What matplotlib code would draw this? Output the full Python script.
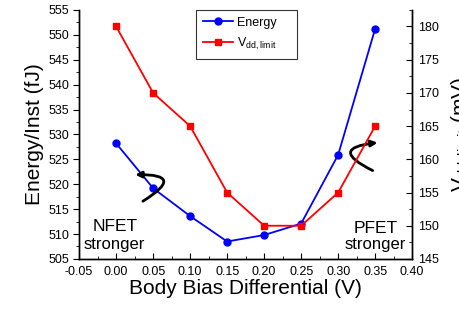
import matplotlib
matplotlib.use("Agg")
import matplotlib.pyplot as plt
from matplotlib.ticker import MultipleLocator

plt.rcParams['font.family'] = ['Liberation Sans', 'DejaVu Sans']
plt.rcParams['mathtext.fontset'] = 'custom'
plt.rcParams['mathtext.rm'] = 'Liberation Sans'
plt.rcParams['mathtext.it'] = 'Liberation Sans'

bias = [0.00, 0.05, 0.10, 0.15, 0.20, 0.25, 0.30, 0.35]
energy = [528.2, 519.2, 513.6, 508.5, 509.8, 512.1, 525.9, 551.2]
vdd_limit = [180, 170, 165, 155, 150, 150, 155, 165]

fig = plt.figure(figsize=(4.6, 3.09), dpi=100)
ax = fig.add_axes([0.172, 0.162, 0.724, 0.806])
ax2 = ax.twinx()

l1, = ax.plot(bias, energy, color='#0000ff', marker='o', markersize=5, lw=1.3, label='Energy', zorder=3)
l2, = ax2.plot(bias, vdd_limit, color='#ff0000', marker='s', markersize=4.5, lw=1.3,
               label='V$_{\\mathregular{dd,limit}}$', zorder=3)

ax.set_xlim(-0.05, 0.40)
ax.set_ylim(505, 555)
ax2.set_ylim(145, 182.5)

ax.xaxis.set_minor_locator(MultipleLocator(0.025))
ax.yaxis.set_major_locator(MultipleLocator(5))
ax.yaxis.set_minor_locator(MultipleLocator(2.5))
ax2.yaxis.set_major_locator(MultipleLocator(5))
ax2.yaxis.set_minor_locator(MultipleLocator(2.5))

ax.set_xticks([-0.05, 0.0, 0.05, 0.10, 0.15, 0.20, 0.25, 0.30, 0.35, 0.40])
ax.set_xticklabels(['-0.05', '0.00', '0.05', '0.10', '0.15', '0.20', '0.25', '0.30', '0.35', '0.40'])

for a in (ax, ax2):
    a.spines['top'].set_visible(False)
    for s in a.spines.values():
        s.set_linewidth(1.0)

ax.tick_params(axis='x', which='both', direction='in', labelsize=9, pad=5)
ax.tick_params(axis='x', which='major', length=4)
ax.tick_params(axis='x', which='minor', length=2)
ax.tick_params(axis='y', which='both', direction='out', labelsize=9, pad=3)
ax.tick_params(axis='y', which='major', length=4)
ax.tick_params(axis='y', which='minor', length=2)
ax2.tick_params(axis='y', which='both', direction='in', labelsize=9, pad=4)
ax2.tick_params(axis='y', which='major', length=4)
ax2.tick_params(axis='y', which='minor', length=2)

ax.set_xlabel('Body Bias Differential (V)', fontsize=15, labelpad=1)
ax.set_ylabel('Energy/Inst (fJ)', fontsize=15, labelpad=3)
ax2.set_ylabel('V$_{\\mathregular{dd,limit}}$ (mV)', fontsize=15, labelpad=8)

leg = ax.legend(handles=[l1, l2], loc='upper left', bbox_to_anchor=(0.351, 0.0, 0.303, 1.0),
                mode='expand', borderaxespad=0,
                fontsize=9, frameon=True, fancybox=False, edgecolor='black',
                handlelength=2.4, handletextpad=0.3, borderpad=0.55, labelspacing=0.55)
leg.get_frame().set_linewidth(0.8)

ax.text(-0.0014, 510.6, 'NFET', fontsize=12.5, ha='center', va='baseline')
ax.text(-0.002, 507.0, 'stronger', fontsize=12, ha='center', va='baseline')
ax.text(0.351, 510.3, 'PFET', fontsize=12.5, ha='center', va='baseline')
ax.text(0.350, 506.9, 'stronger', fontsize=12, ha='center', va='baseline')

ax.annotate('', xy=(0.022, 521.9), xytext=(0.033, 516.3),
            arrowprops=dict(arrowstyle='-|>', color='black', lw=2.0,
                            connectionstyle='arc3,rad=1.9', mutation_scale=9))
ax.annotate('', xy=(0.357, 528.4), xytext=(0.350, 522.5),
            arrowprops=dict(arrowstyle='-|>', color='black', lw=2.0,
                            connectionstyle='arc3,rad=-1.8', mutation_scale=9))

fig.savefig('out.png', dpi=100)
